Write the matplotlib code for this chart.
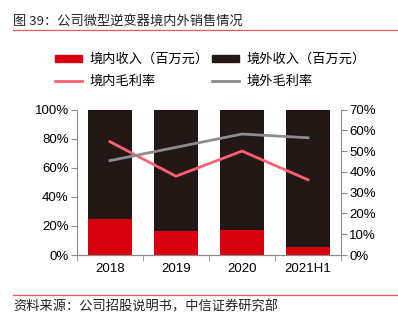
import numpy as np
import matplotlib.pyplot as plt
from matplotlib.lines import Line2D
from matplotlib.patches import Patch
from matplotlib.ticker import PercentFormatter

plt.rcParams['font.family'] = ['Liberation Sans', 'Noto Sans CJK SC', 'DejaVu Sans']

years = ['2018', '2019', '2020', '2021H1']
dom_share = [24.5, 16.3, 17.2, 5.5]          # 境内收入占比 (%)
abroad_share = [100 - v for v in dom_share]  # 境外收入占比 (%)
dom_margin = [54.5, 37.9, 50.0, 36.2]        # 境内毛利率 (%)
abroad_margin = [45.4, 51.8, 58.2, 56.4]     # 境外毛利率 (%)

red = '#d7000f'
dark = '#231815'
pink = '#ff6173'
grey = '#8c8c8c'
axis_c = '#8c8c8c'

fig = plt.figure(figsize=(3.98, 3.22), dpi=100)
ax = fig.add_axes([77 / 398, 1 - 255 / 322, 264 / 398, 145.5 / 322])

x = np.arange(len(years))
ax.bar(x, dom_share, width=0.655, color=red, zorder=2)
ax.bar(x, abroad_share, bottom=dom_share, width=0.655, color=dark, zorder=2)
ax.set_xlim(-0.5, 3.5)
ax.set_ylim(0, 100)
ax.set_yticks(range(0, 101, 20))
ax.yaxis.set_major_formatter(PercentFormatter(decimals=0))
ax.set_xticks(x)
ax.set_xticklabels(years)
ax.set_xticks(np.arange(-0.5, 4, 1), minor=True)
ax.tick_params(axis='x', which='major', length=0, pad=6, labelsize=9.5)
ax.tick_params(axis='x', which='minor', length=4, color=axis_c)
ax.tick_params(axis='y', length=4, color=axis_c, labelsize=9.5, pad=2)

ax2 = ax.twinx()
ax2.plot(x, dom_margin, color=pink, lw=2, zorder=3)
ax2.plot(x, abroad_margin, color=grey, lw=2, zorder=3)
ax2.set_ylim(0, 70)
ax2.set_yticks(range(0, 71, 10))
ax2.yaxis.set_major_formatter(PercentFormatter(decimals=0))
ax2.tick_params(axis='y', length=4, color=axis_c, labelsize=9.5, pad=2)

for a in (ax, ax2):
    a.spines['top'].set_visible(False)
    for s in ('left', 'right', 'bottom'):
        a.spines[s].set_color(axis_c)
        a.spines[s].set_linewidth(0.8)
ax.spines['right'].set_visible(False)
ax2.spines['left'].set_visible(False)

# 标题与来源
fig.text(13 / 398, 1 - 21 / 322, '图 39：公司微型逆变器境内外销售情况', fontsize=9.5,
         family=['Noto Sans CJK SC', 'DejaVu Sans'], va='center', color='#222222')
fig.add_artist(Line2D([13 / 398, 1], [1 - 29.5 / 322] * 2, color='#e8585c', lw=0.9))
fig.add_artist(Line2D([13 / 398, 1], [1 - 294.5 / 322] * 2, color='#e8585c', lw=0.9))
fig.text(13 / 398, 1 - 307 / 322, '资料来源：公司招股说明书，中信证券研究部', fontsize=9.5,
         family=['Noto Sans CJK SC', 'DejaVu Sans'], va='center', color='#222222')

# 图例按列填充：左列境内，右列境外
handles = [Patch(color=red), Line2D([], [], color=pink, lw=2),
           Patch(color=dark), Line2D([], [], color=grey, lw=2)]
labels = ['境内收入（百万元）', '境内毛利率', '境外收入（百万元）', '境外毛利率']
fig.legend(handles, labels, loc='center left', bbox_to_anchor=(55 / 398, 1 - 70.5 / 322),
           ncol=2, frameon=False, prop={'family': ['Noto Sans CJK SC'], 'size': 9.5},
           handlelength=2.05, handleheight=0.5, columnspacing=0.2, labelspacing=0.65,
           handletextpad=0.6, borderpad=0, borderaxespad=0)

fig.savefig('out.png', dpi=100)
